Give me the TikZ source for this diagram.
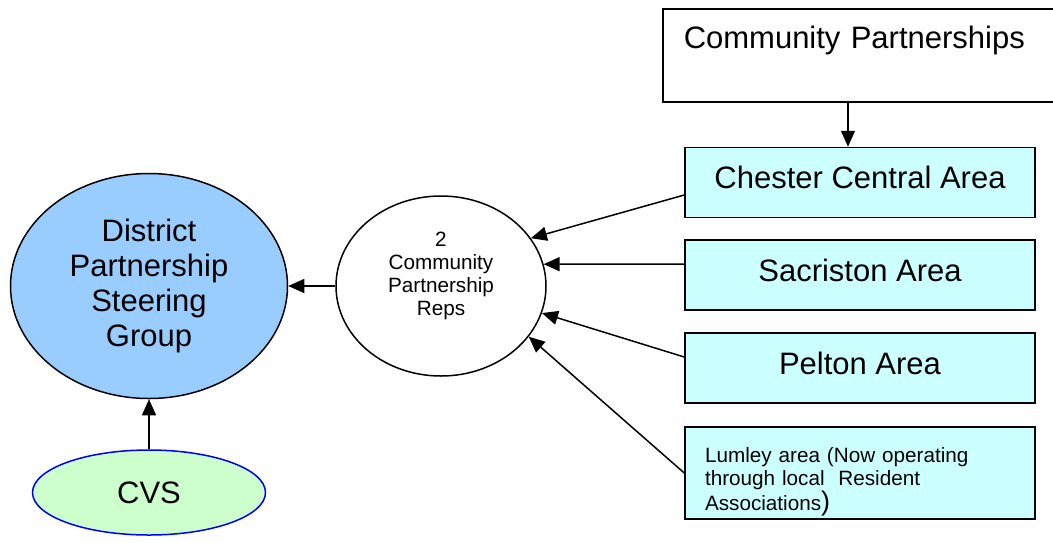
\documentclass[tikz,border=0pt]{standalone}
\usepackage{fontspec}
\setmainfont{Liberation Sans}
\usepackage{tikz}
\usetikzlibrary{shapes}
\usetikzlibrary{arrows.meta}
\definecolor{areacyan}{HTML}{CCFFFF}
\definecolor{groupblue}{HTML}{99CCFF}
\definecolor{cvsgreen}{HTML}{CCFFCC}
\tikzset{
  big/.style={font=\fontsize{31}{35}\selectfont},
  small/.style={font=\fontsize{20.7}{23}\selectfont},
  area/.style={draw, line width=1.5pt, fill=areacyan, minimum width=350pt, minimum height=70pt, inner sep=0pt},
  arealabel/.style={area, big, text depth=10pt},
  arr/.style={line width=1.5pt, -{Triangle[length=16pt,width=14pt]}}}

\begin{document}
\begin{tikzpicture}[x=1pt,y=-1pt]
\useasboundingbox (0,0) rectangle (1053,542);
% right hand column
\node (cp) [draw, line width=1.5pt, anchor=north west, minimum width=400pt, minimum height=93pt,
  inner xsep=21pt, text width=358pt, align=left, big] at (662,8) {Community Partnerships\\ \mbox{}};
\node (chester) [arealabel] at (860,182.5) {Chester Central Area};
\node (sacriston) [arealabel] at (860,275) {Sacriston Area};
\node (pelton) [arealabel] at (860,368) {Pelton Area};
\node (lumley) [area, minimum height=92pt, text width=310pt, align=left, small] at (860,473)
  {\rule{0pt}{32pt}Lumley area (Now operating\\ through local\ \ Resident\\ Associations{\fontsize{27}{27}\selectfont)}};
% middle and left
\node (reps) [ellipse, draw, line width=1.5pt, minimum width=210pt, minimum height=180pt, inner sep=0pt,
  text depth=24pt, align=center, small] at (441,286) {2\\Community\\Partnership\\Reps};
\node (district) [ellipse, draw, line width=1.5pt, fill=groupblue, minimum width=277pt, minimum height=225pt,
  inner sep=0pt, align=center, big] at (149,286) {District\\Partnership\\Steering\\Group};
\node (cvs) [ellipse, draw=blue, line width=1.5pt, fill=cvsgreen, minimum width=233pt, minimum height=85pt,
  big] at (149,492.5) {CVS};
% links
\draw [arr] ([xshift=-12pt]chester.north |- cp.south) -- ([xshift=-12pt]chester.north);
\draw [arr] ([yshift=-12.5pt]chester.west) -- (reps.28);
\draw [arr] ([yshift=11pt]sacriston.west) -- (reps.12);
\draw [arr] ([yshift=11pt]pelton.west) -- (reps.-15);
\draw [arr] (lumley.west) -- (reps.-30);
\draw [arr] (reps.west) -- (district.east);
\draw [arr] (cvs.north) -- (district.south);
\end{tikzpicture}
\end{document}
